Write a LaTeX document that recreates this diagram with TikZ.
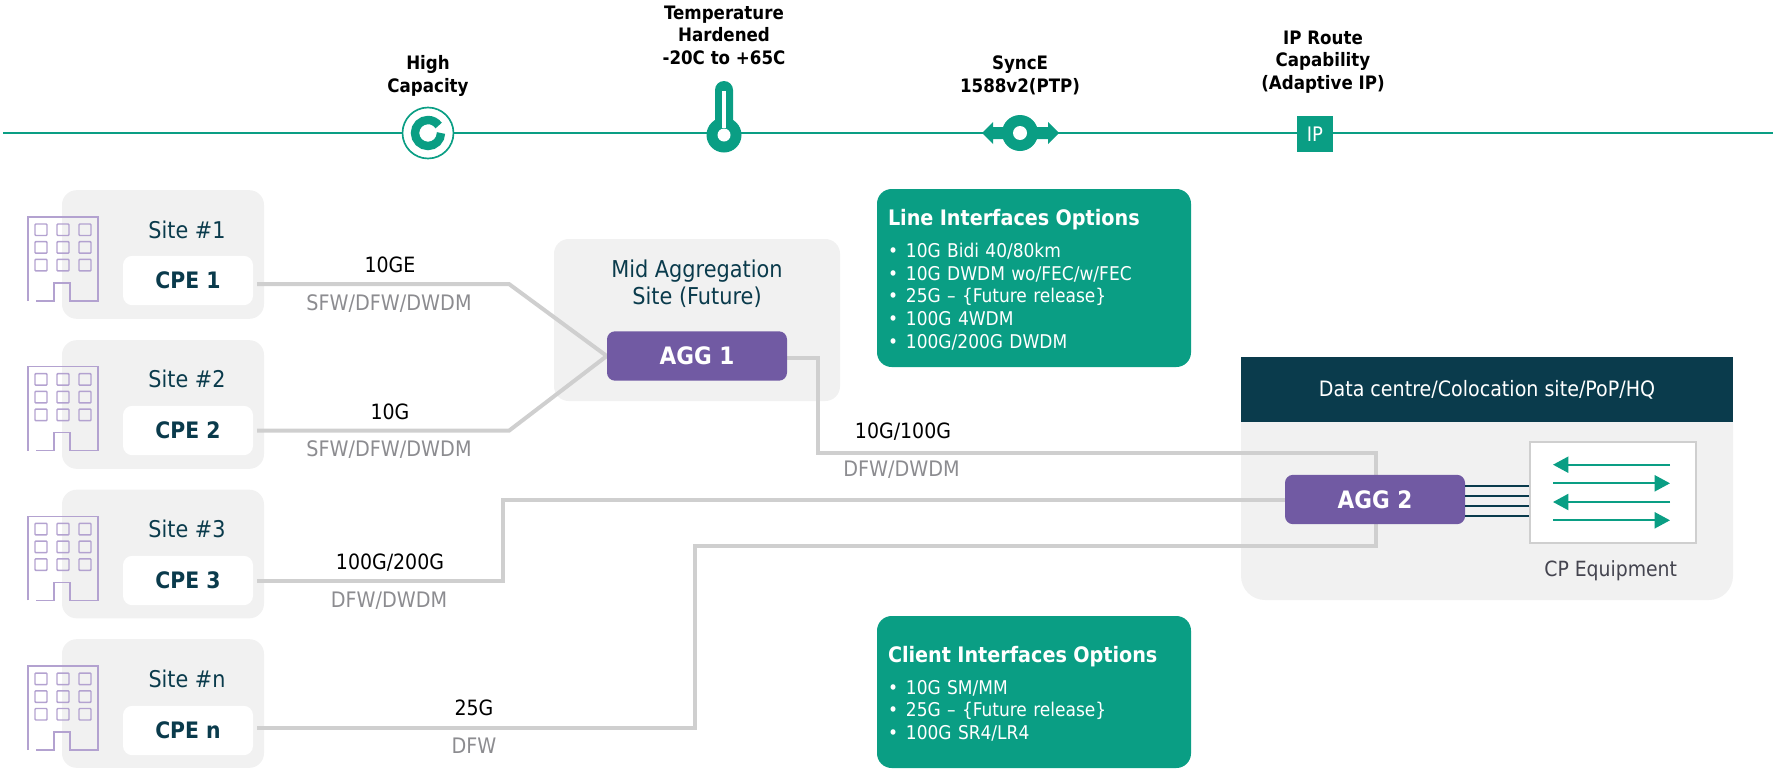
\documentclass[tikz,border=0pt]{standalone}
\usepackage{fontspec}
\setmainfont{DejaVu Sans Condensed}
\usetikzlibrary{arrows.meta}
\definecolor{teal}{HTML}{0A9E84}
\definecolor{dark}{HTML}{0A3B4C}
\definecolor{purp}{HTML}{715AA3}
\definecolor{lite}{HTML}{F1F1F1}
\definecolor{wire}{HTML}{CFCFCF}
\definecolor{bldg}{HTML}{B3A2D0}
\definecolor{greytxt}{HTML}{8C8C90}
\definecolor{eqtxt}{HTML}{44444F}
\pgfdeclarelayer{sites}
\pgfdeclarelayer{links}
\pgfsetlayers{sites,links,main}
\newcommand{\fsz}[1]{\fontsize{#1}{#1}\selectfont}
\newcommand{\lowered}[1]{\raisebox{-0.8pt}{#1}}
\tikzset{
  x=0.75pt,y=-0.75pt,
  feat/.style={font=\fsz{13.9}\bfseries,align=center,text=black,inner sep=0pt},
  sitebox/.style={fill=lite,rounded corners=11pt,minimum width=151.5pt,minimum height=96.5pt,inner sep=0pt},
  sitelbl/.style={font=\fsz{17.3},text=dark,inner sep=0pt},
  cpebox/.style={fill=white,rounded corners=7pt,minimum width=97.5pt,minimum height=37pt,font=\fsz{17}\bfseries,text=dark,inner sep=0pt},
  aggbox/.style={fill=purp,rounded corners=6pt,minimum width=135pt,minimum height=37pt,font=\fsz{18}\bfseries,text=white,inner sep=0pt},
  link/.style={draw=wire,line width=3pt},
  speed/.style={font=\fsz{15.8},text=black,inner sep=0pt},
  wave/.style={font=\fsz{16},text=greytxt,inner sep=0pt},
  optbox/.style={fill=teal,rounded corners=11pt,minimum width=235.5pt,text width=219pt,inner xsep=8.25pt,inner ysep=0pt,align=left,text=white,font=\fsz{14.2}},
  bldgline/.style={draw=bldg,line width=1.1pt},
  flow/.style={draw=teal,line width=1.5pt,-{Triangle[length=11.5pt,width=12pt]}},
  trunk/.style={draw=dark,line width=1.7pt},
}
\newcommand{\optitem}[1]{\makebox[13.5pt][l]{•}#1\\}
\newcommand{\building}[2]{%
  \begin{scope}[shift={(#1,#2)}]
    \draw[bldgline] (28,301) -- (28,217) -- (98,217) -- (98,301) -- (70,301) -- (70,283) -- (54,283) -- (54,301) -- (36,301);
    \foreach \i in {0,1,2}\foreach \j in {0,1,2}
      \draw[bldgline,rounded corners=0.6pt] (35+22*\i,224+17.7*\j) rectangle ++(12,11.5);
  \end{scope}}
\begin{document}
\begin{tikzpicture}
\useasboundingbox (0,0) rectangle (1773,768);

% ---- top timeline
\coordinate (tl) at (3,133);
\coordinate (tr) at (1773,133);
\draw[teal,line width=1.5pt] (tl) -- (tr);

\node[feat] (f1) at (428,76) {High\\[3pt]Capacity};
\node[feat] (f2) at (724,35) {Temperature\\[3pt]Hardened\\[3pt]-20C to +65C};
\node[feat] (f3) at (1020,75.5) {SyncE\\[3pt]1588v2(PTP)};
\node[feat] (f4) at (1323,62) {IP Route\\[3pt]Capability\\[3pt](Adaptive IP)};

% high capacity icon
\fill[white] (428,133) circle (25.5);
\draw[teal,line width=1.25pt] (428,133) circle (25.5);
\draw[teal,line width=6.3pt] (441,133) arc[start angle=0,end angle=325,radius=13];
% thermometer icon
\fill[teal] (715,90) arc[start angle=180,end angle=360,radius=9] -- (733,125) -- (715,125) -- cycle;
\fill[teal] (724,135) circle (17.5);
\fill[white] (722.3,91) rectangle (725.7,128);
\fill[white] (724,135) circle (6.5);
% sync icon
\fill[teal] (982,133) -- (993,122) -- (993,127) -- (1048,127) -- (1048,122) -- (1059,133) -- (1048,144) -- (1048,139) -- (993,139) -- (993,144) -- cycle;
\fill[teal] (1020,133) circle (18);
\fill[white] (1020,133) circle (7);
% ip icon
\node[fill=teal,minimum size=27pt,inner sep=0pt,text=white,font=\fsz{15}] (ip) at (1315,134) {IP};

% ---- sites
\begin{pgfonlayer}{sites}
\node[sitebox] (s1) at (163,254.5) {};
\node[sitebox] (s2) at (163,404.5) {};
\node[sitebox] (s3) at (163,554) {};
\node[sitebox] (sn) at (163,703.5) {};
\node[fill=lite,rounded corners=11pt,minimum width=214.5pt,minimum height=121.5pt] (mid) at (697,320) {};
\fill[lite,rounded corners=18pt] (1241,400) -- (1241,600) -- (1733,600) -- (1733,400) -- cycle;
\end{pgfonlayer}
\node[fill=dark,minimum width=369pt,minimum height=48.75pt,inner sep=0pt,text=white,font=\fsz{15.9}] (dc) at (1487,389.5) {Data centre/Colocation site/PoP/HQ};

\building{0}{0}
\building{0}{149.7}
\building{0}{299.4}
\building{0}{449.1}

\node[sitelbl] (l1) at (187,229.5) {Site \#1};
\node[sitelbl] (l2) at (187,379) {Site \#2};
\node[sitelbl] (l3) at (187,529) {Site \#3};
\node[sitelbl] (ln) at (187,679) {Site \#n};

\node[cpebox] (c1) at (188,280.5) {\lowered{CPE 1}};
\node[cpebox] (c2) at (188,430.5) {\lowered{CPE 2}};
\node[cpebox] (c3) at (188,580.5) {\lowered{CPE 3}};
\node[cpebox] (cn) at (188,730.5) {\lowered{CPE n}};

\node[font=\fsz{17.4},text=dark,align=center,inner sep=0pt] (midl) at (697,284) {Mid Aggregation\\[3pt]Site (Future)};
\node[aggbox] (a1) at (697,356) {\lowered{AGG 1}};
\node[aggbox] (a2) at (1375,499.5) {\lowered{AGG 2}};

\node[draw=wire,line width=1.8pt,fill=white,minimum width=124.5pt,minimum height=75.75pt,inner sep=0pt] (cp) at (1613,492.5) {};
\node[font=\fsz{15.7},text=eqtxt,inner sep=0pt] (cpl) at (1610.7,571) {CP Equipment};

% ---- connectors
\begin{pgfonlayer}{links}
\coordinate (j1) at (509,284);
\coordinate (j2) at (509,430.7);
\coordinate (j3) at (818,358);
\coordinate (j4) at (818,453);
\coordinate (j5) at (1376,453);
\coordinate (j6) at (503,581);
\coordinate (j7) at (503,499.5);
\coordinate (j8) at (695,728);
\coordinate (j9) at (695,546);
\coordinate (j10) at (1376,546);
\draw[link] (257,284) -- (j1) -- (a1.west);
\draw[link] (257,430.7) -- (j2) -- (a1.west);
\draw[link] (a1.east |- j3) -- (j3) -- (j4) -- (j5) -- (a2.north -| j5);
\draw[link] (257,581) -- (j6) -- (j7) -- (a2.west |- j7);
\draw[link] (257,728) -- (j8) -- (j9) -- (j10) -- (a2.south -| j10);
\end{pgfonlayer}

\foreach \y in {485.7,495.7,505.7,515.7}
  \draw[trunk] (a2.east |- 0,\y) -- (cp.west |- 0,\y);

\coordinate (fa) at (1553,464.7);
\coordinate (fb) at (1670,464.7);
\coordinate (fc) at (1553,483.3);
\coordinate (fd) at (1670,483.3);
\coordinate (fe) at (1553,502);
\coordinate (ff) at (1670,502);
\coordinate (fg) at (1553,520.3);
\coordinate (fh) at (1670,520.3);
\draw[flow] (fb) -- (fa);
\draw[flow] (fc) -- (fd);
\draw[flow] (ff) -- (fe);
\draw[flow] (fg) -- (fh);

% ---- link labels
\node[speed] (t1) at (390,265) {10GE};
\node[wave]  (w1) at (389,304) {SFW/DFW/DWDM};
\node[speed] (t2) at (390,412) {10G};
\node[wave]  (w2) at (389,450) {SFW/DFW/DWDM};
\node[speed] (t3) at (903,432) {10G/100G};
\node[wave]  (w3) at (901.5,470) {DFW/DWDM};
\node[speed] (t4) at (390,563) {100G/200G};
\node[wave]  (w4) at (389,601) {DFW/DWDM};
\node[speed] (t5) at (474,708) {25G};
\node[wave]  (w5) at (474,746) {DFW};

% ---- option boxes
\node[optbox,minimum height=133.5pt] (line) at (1034,278) {%
  \rule{0pt}{15pt}{\fsz{16}\bfseries Line Interfaces Options}\\[9.5pt]
  \optitem{10G Bidi 40/80km}[2.8pt]
  \optitem{10G DWDM wo/FEC/w/FEC}[2.8pt]
  \optitem{25G – \{Future release\}}[2.8pt]
  \optitem{100G 4WDM}[2.8pt]
  \makebox[13.5pt][l]{•}100G/200G DWDM};
\node[optbox,minimum height=114pt] (client) at (1034,692) {%
  \rule{0pt}{15pt}{\fsz{16}\bfseries Client Interfaces Options}\\[9.5pt]
  \optitem{10G SM/MM}[2.8pt]
  \optitem{25G – \{Future release\}}[2.8pt]
  \makebox[13.5pt][l]{•}100G SR4/LR4};
\end{tikzpicture}
\end{document}
